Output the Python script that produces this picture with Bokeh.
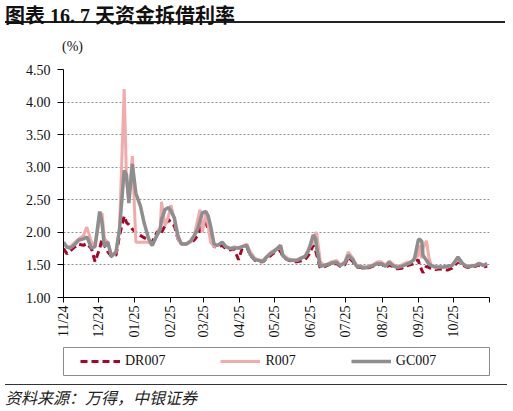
import math
import pandas as pd
from bokeh.plotting import figure
from bokeh.models import (Range1d, FixedTicker, DatetimeTickFormatter, NumeralTickFormatter,
                          ColumnDataSource, Legend, LegendItem, Div)
from bokeh.layouts import column
from bokeh.embed import file_html
from bokeh.resources import INLINE

# ---------------- data ----------------
dates = [
    "2024-11-01", "2024-11-04", "2024-11-07", "2024-11-11", "2024-11-14", "2024-11-18", "2024-11-21", "2024-11-25", "2024-11-28",
    "2024-12-02", "2024-12-04", "2024-12-06", "2024-12-09", "2024-12-12", "2024-12-16", "2024-12-19", "2024-12-23", "2024-12-25", "2024-12-27", "2024-12-30",
    "2025-01-02", "2025-01-06", "2025-01-09", "2025-01-13", "2025-01-16", "2025-01-20", "2025-01-23", "2025-01-24", "2025-01-27", "2025-01-30",
    "2025-02-01", "2025-02-04", "2025-02-07", "2025-02-10", "2025-02-14", "2025-02-18", "2025-02-21", "2025-02-24", "2025-02-26", "2025-02-28",
    "2025-03-03", "2025-03-05", "2025-03-07", "2025-03-10", "2025-03-13", "2025-03-17", "2025-03-20", "2025-03-24", "2025-03-27", "2025-03-31",
    "2025-04-03", "2025-04-07", "2025-04-10", "2025-04-14", "2025-04-17", "2025-04-21", "2025-04-24", "2025-04-28", "2025-04-30",
    "2025-05-06", "2025-05-08", "2025-05-12", "2025-05-16", "2025-05-20", "2025-05-23", "2025-05-27", "2025-05-30",
    "2025-06-03", "2025-06-05", "2025-06-06", "2025-06-09", "2025-06-12", "2025-06-16", "2025-06-19", "2025-06-23", "2025-06-26", "2025-06-30",
    "2025-07-03", "2025-07-07", "2025-07-10", "2025-07-14", "2025-07-17", "2025-07-21", "2025-07-24", "2025-07-28", "2025-07-31",
    "2025-08-04", "2025-08-07", "2025-08-11", "2025-08-14", "2025-08-18", "2025-08-21", "2025-08-25", "2025-08-28", "2025-08-29",
    "2025-09-01", "2025-09-02", "2025-09-04", "2025-09-05", "2025-09-08", "2025-09-10", "2025-09-12", "2025-09-16", "2025-09-19", "2025-09-23", "2025-09-26", "2025-09-30",
    "2025-10-05", "2025-10-09", "2025-10-13", "2025-10-16", "2025-10-20", "2025-10-23", "2025-10-27", "2025-10-30",
]

dr007 = [
    1.75, 1.67, 1.72, 1.78, 1.82, 1.80, 1.83, 1.75, 1.55,
    1.75, 1.90, 1.80, 1.70, 1.63, 1.65, 1.95, 2.25, 2.15, 2.12, 2.05,
    2.00, 1.95, 1.92, 1.88, 1.85, 2.00, 2.05, 2.00, 2.10, 2.20,
    2.15, 2.10, 1.90, 1.82, 1.82, 1.85, 1.88, 1.95, 2.05, 2.10,
    2.15, 2.05, 1.95, 1.78, 1.78, 1.80, 1.75, 1.73, 1.75, 1.58,
    1.75, 1.78, 1.65, 1.57, 1.55, 1.55, 1.60, 1.65, 1.68,
    1.72, 1.62, 1.58, 1.55, 1.55, 1.56, 1.58, 1.65,
    1.80, 1.72, 1.65, 1.45, 1.47, 1.50, 1.52, 1.52, 1.48, 1.50,
    1.62, 1.55, 1.47, 1.46, 1.44, 1.46, 1.48, 1.50, 1.52,
    1.46, 1.50, 1.47, 1.44, 1.45, 1.48, 1.50, 1.52, 1.55,
    1.58, 1.50, 1.42, 1.38, 1.48, 1.46, 1.45, 1.43, 1.44, 1.43, 1.42, 1.45,
    1.55, 1.50, 1.46, 1.47, 1.48, 1.50, 1.47, 1.48,
]

r007 = [
    1.82, 1.78, 1.78, 1.85, 1.90, 1.95, 2.08, 1.85, 1.80,
    2.20, 2.30, 1.90, 1.85, 1.65, 1.70, 2.05, 4.20, 2.80, 2.50, 3.17,
    1.85, 1.85, 1.85, 1.85, 1.80, 1.95, 2.10, 2.47, 2.10, 2.25,
    2.42, 2.20, 1.90, 1.82, 1.82, 1.85, 1.95, 2.20, 2.35, 2.00,
    2.30, 2.10, 1.85, 1.78, 1.80, 1.85, 1.78, 1.75, 1.78, 1.75,
    1.78, 1.82, 1.70, 1.60, 1.58, 1.57, 1.63, 1.70, 1.72,
    1.78, 1.66, 1.60, 1.58, 1.57, 1.60, 1.63, 1.75,
    1.85, 2.00, 1.98, 1.55, 1.50, 1.52, 1.55, 1.57, 1.50, 1.55,
    1.70, 1.60, 1.50, 1.48, 1.47, 1.49, 1.50, 1.55, 1.55,
    1.50, 1.56, 1.50, 1.48, 1.50, 1.53, 1.55, 1.57, 1.60,
    1.65, 1.80, 1.60, 1.75, 1.87, 1.62, 1.50, 1.45, 1.47, 1.46, 1.47, 1.50,
    1.58, 1.52, 1.48, 1.49, 1.50, 1.53, 1.50, 1.52,
]

gc007 = [
    1.85, 1.77, 1.76, 1.82, 1.88, 1.90, 1.93, 1.76, 1.78,
    2.32, 2.15, 1.78, 1.85, 1.63, 1.70, 2.05, 2.95, 2.88, 2.45, 3.05,
    2.60, 2.40, 2.15, 1.90, 1.80, 1.95, 2.05, 2.20, 2.35, 2.38,
    2.33, 2.22, 1.95, 1.82, 1.82, 1.87, 1.95, 2.05, 2.18, 2.30,
    2.32, 2.25, 2.10, 1.82, 1.80, 1.85, 1.78, 1.75, 1.76, 1.76,
    1.78, 1.80, 1.66, 1.58, 1.57, 1.55, 1.62, 1.68, 1.70,
    1.80, 1.64, 1.58, 1.57, 1.57, 1.60, 1.63, 1.72,
    1.96, 1.90, 1.75, 1.48, 1.49, 1.51, 1.53, 1.54, 1.49, 1.53,
    1.65, 1.58, 1.48, 1.47, 1.45, 1.47, 1.49, 1.52, 1.52,
    1.48, 1.54, 1.48, 1.46, 1.48, 1.50, 1.53, 1.58, 1.62,
    1.88, 1.90, 1.86, 1.65, 1.57, 1.52, 1.49, 1.47, 1.47, 1.47, 1.48, 1.49,
    1.62, 1.52, 1.47, 1.48, 1.49, 1.52, 1.49, 1.52,
]

series_names = ["DR007", "R007", "GC007"]
month_ticks = ["2024-11-01", "2024-12-01", "2025-01-01", "2025-02-01", "2025-03-01", "2025-04-01",
               "2025-05-01", "2025-06-01", "2025-07-01", "2025-08-01", "2025-09-01", "2025-10-01",
               "2025-11-01"]
y_ticks = [1.0, 1.5, 2.0, 2.5, 3.0, 3.5, 4.0, 4.5]
unit_label = "(%)"

assert len(dates) == len(dr007) == len(r007) == len(gc007)

# ---------------- styling ----------------
SERIF = "Liberation Serif"
C_DR = "#AC0428"
C_R = "#F2AAAA"
C_GC = "#8E8E8E"
DR_DASH = "7 4"

src = ColumnDataSource(dict(date=pd.to_datetime(dates), dr=dr007, r=r007, gc=gc007))

tick_ms = [float(pd.Timestamp(d).value // 10**6) for d in month_ticks]

p = figure(width=504, height=284, x_axis_type="datetime",
           x_range=Range1d(pd.Timestamp(month_ticks[0]), pd.Timestamp(month_ticks[-1])),
           y_range=Range1d(y_ticks[0], y_ticks[-1]),
           output_backend="svg", toolbar_location=None,
           min_border_left=63, min_border_right=14, min_border_top=13, min_border_bottom=41)
p.outline_line_color = None
p.background_fill_color = "white"

# y axis
yax = p.yaxis[0]
yax.ticker = FixedTicker(ticks=y_ticks)
yax.formatter = NumeralTickFormatter(format="0.00")
yax.major_tick_out = 6
yax.major_tick_in = 0
yax.minor_tick_out = 0
yax.minor_tick_in = 0
yax.axis_line_color = "black"
yax.major_tick_line_color = "black"
yax.major_label_text_font = SERIF
yax.major_label_text_font_size = "14px"
yax.major_label_text_color = "#111111"
yax.major_label_standoff = 7

# x axis
xax = p.xaxis[0]
xax.ticker = FixedTicker(ticks=tick_ms)
fmt = "%m/%y"
xax.formatter = DatetimeTickFormatter(microseconds=fmt, milliseconds=fmt, seconds=fmt, minsec=fmt,
                                      minutes=fmt, hourmin=fmt, hours=fmt, days=fmt, months=fmt, years=fmt)
xax.major_label_overrides = {tick_ms[-1]: ""}
xax.major_label_orientation = math.pi / 2
xax.major_tick_out = 5
xax.major_tick_in = 0
xax.minor_tick_out = 0
xax.minor_tick_in = 0
xax.axis_line_color = "black"
xax.major_tick_line_color = "black"
xax.major_label_text_font = SERIF
xax.major_label_text_font_size = "14px"
xax.major_label_text_color = "#111111"
xax.major_label_standoff = 3

p.xgrid.visible = False
p.ygrid.ticker = FixedTicker(ticks=y_ticks[1:])
p.ygrid.grid_line_color = "#8f8f8f"
p.ygrid.grid_line_dash = "2 2"
p.ygrid.grid_line_width = 1

p.line(x="date", y="dr", source=src, line_color=C_DR, line_width=3, line_dash=DR_DASH)
p.line(x="date", y="r", source=src, line_color=C_R, line_width=3)
p.line(x="date", y="gc", source=src, line_color=C_GC, line_width=3.5)

# ---------------- legend (separate boxed panel) ----------------
# the sample renderers use the same data; this panel's ranges keep them off-frame,
# so only the legend samples are visible
pl = figure(width=504, height=42, toolbar_location=None, output_backend="svg",
            x_axis_location=None, y_axis_location=None,
            x_range=Range1d(0, 1), y_range=Range1d(0, 1),
            min_border_left=22, min_border_right=15, min_border_top=7, min_border_bottom=7)
pl.grid.visible = False
pl.outline_line_color = "#8c8c8c"
pl.outline_line_width = 1
l1 = pl.line(x="date", y="dr", source=src, line_color=C_DR, line_width=3, line_dash=DR_DASH)
l2 = pl.line(x="date", y="r", source=src, line_color=C_R, line_width=3)
l3 = pl.line(x="date", y="gc", source=src, line_color=C_GC, line_width=3.5)
leg = Legend(items=[LegendItem(label=series_names[0], renderers=[l1]),
                    LegendItem(label=series_names[1], renderers=[l2]),
                    LegendItem(label=series_names[2], renderers=[l3])],
             location=(13, 2), orientation="horizontal",
             glyph_width=40, glyph_height=16, label_height=16, label_width=10,
             label_standoff=5, spacing=55, padding=4, margin=0,
             border_line_alpha=0, background_fill_alpha=0,
             label_text_font=SERIF, label_text_font_size="14px", label_text_color="#111111")
pl.add_layout(leg)

# ---------------- title, unit and source ----------------
title_div = Div(text='<div style="margin-left: 5px; width: 500px; padding-top: 6px; '
                     'font-family: \'Liberation Serif\', \'Noto Sans CJK SC\', serif; '
                     'font-weight: bold; font-size: 20px; line-height: 20px; height: 23px; '
                     'border-bottom: 2px solid #222; color: #111; white-space: nowrap;">'
                     '图表 16. 7 天资金拆借利率</div>',
                width=505, height=31, margin=0)
unit_div = Div(text='<div style="margin-left: 62px; padding-top: 8px; '
                    'font-family: \'Liberation Serif\', serif; font-size: 14px; line-height: 16px; '
                    'color: #111; white-space: nowrap;">' + unit_label + '</div>',
               width=504, height=25, margin=0)
source_div = Div(text='<div style="margin-left: 5px; width: 502px; margin-top: 2px; '
                      'border-top: 1.5px solid #333; padding-top: 4px; '
                      'font-family: \'Noto Sans CJK SC\', sans-serif; font-style: italic; font-size: 16px; '
                      'line-height: 16px; color: #222; white-space: nowrap;">'
                      '资料来源：万得，中银证券</div>',
                 width=507, height=26, margin=0)

layout = column(title_div, unit_div, p, pl, source_div, spacing=0)

open("out.html", "w").write(file_html(layout, INLINE))
